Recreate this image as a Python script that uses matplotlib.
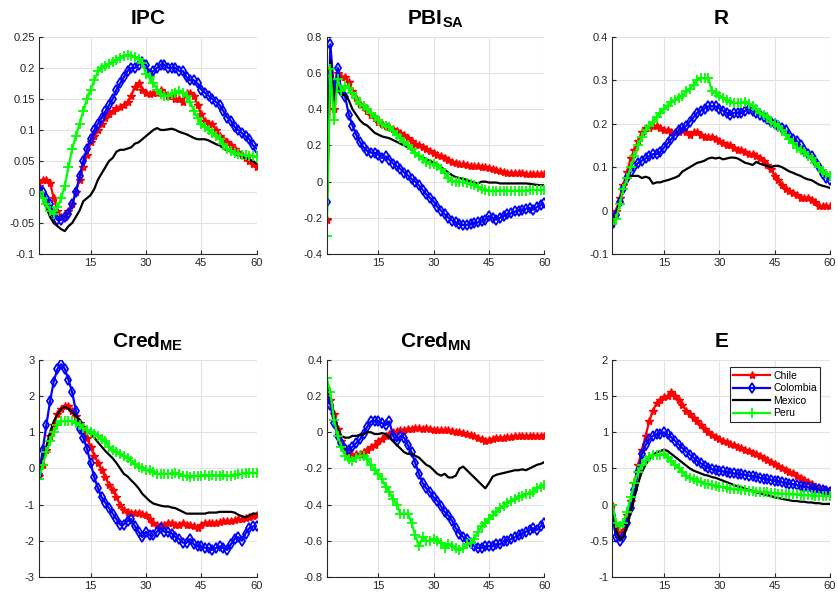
import numpy as np
import matplotlib
matplotlib.use('Agg')
import matplotlib.pyplot as plt
from matplotlib.ticker import FuncFormatter

plt.rcParams['font.family'] = ['Liberation Sans', 'DejaVu Sans']
plt.rcParams['axes.unicode_minus'] = False
plt.rcParams['mathtext.fontset'] = 'custom'
plt.rcParams['mathtext.bf'] = 'Liberation Sans:bold'
plt.rcParams['mathtext.rm'] = 'Liberation Sans'

#horizon
h = np.arange(1, 61)
countries = ['Chile', 'Colombia', 'Mexico', 'Peru']

#IPC
ipc_chile = [0.01, 0.02, 0.02, 0.015, -0.01, -0.03, -0.04, -0.04, -0.03, -0.02,
             0.0, 0.02, 0.04, 0.06, 0.08, 0.09, 0.10, 0.11, 0.12, 0.125,
             0.13, 0.135, 0.137, 0.14, 0.145, 0.155, 0.17, 0.175, 0.165, 0.16,
             0.158, 0.16, 0.16, 0.165, 0.16, 0.155, 0.155, 0.15, 0.15, 0.145,
             0.16, 0.16, 0.155, 0.14, 0.125, 0.115, 0.11, 0.11, 0.10, 0.09,
             0.085, 0.08, 0.075, 0.07, 0.065, 0.06, 0.055, 0.05, 0.045, 0.04]
ipc_colombia = [0.005, 0.0, -0.01, -0.02, -0.035, -0.045, -0.045, -0.04, -0.035, -0.02,
                0.0, 0.025, 0.05, 0.07, 0.085, 0.10, 0.11, 0.12, 0.13, 0.14,
                0.15, 0.165, 0.175, 0.185, 0.195, 0.20, 0.20, 0.205, 0.21, 0.205,
                0.19, 0.195, 0.20, 0.205, 0.205, 0.20, 0.20, 0.20, 0.195, 0.195,
                0.185, 0.18, 0.18, 0.175, 0.165, 0.16, 0.155, 0.15, 0.145, 0.14,
                0.13, 0.12, 0.115, 0.105, 0.10, 0.095, 0.09, 0.085, 0.075, 0.07]
ipc_mexico = [0.0, -0.01, -0.025, -0.04, -0.05, -0.055, -0.06, -0.063, -0.055, -0.05,
              -0.04, -0.03, -0.015, -0.01, -0.005, 0.005, 0.02, 0.03, 0.04, 0.05,
              0.055, 0.065, 0.068, 0.068, 0.07, 0.072, 0.078, 0.08, 0.085, 0.09,
              0.095, 0.10, 0.103, 0.10, 0.10, 0.101, 0.102, 0.10, 0.097, 0.095,
              0.093, 0.09, 0.087, 0.085, 0.085, 0.085, 0.083, 0.08, 0.077, 0.075,
              0.07, 0.067, 0.065, 0.062, 0.06, 0.058, 0.055, 0.052, 0.05, 0.045]
ipc_peru = [0.0, -0.01, -0.02, -0.03, -0.035, -0.025, -0.01, 0.01, 0.04, 0.07,
            0.09, 0.11, 0.13, 0.15, 0.165, 0.18, 0.195, 0.20, 0.203, 0.206,
            0.21, 0.213, 0.216, 0.219, 0.221, 0.22, 0.218, 0.215, 0.208, 0.19,
            0.185, 0.175, 0.165, 0.158, 0.155, 0.155, 0.158, 0.16, 0.163, 0.16,
            0.155, 0.145, 0.13, 0.12, 0.11, 0.105, 0.10, 0.095, 0.09, 0.085,
            0.078, 0.07, 0.066, 0.063, 0.061, 0.06, 0.059, 0.058, 0.058, 0.057]

#PBI_SA
pbi_chile = [-0.21, 0.62, 0.40, 0.60, 0.58, 0.58, 0.55, 0.50, 0.46, 0.43,
             0.41, 0.39, 0.37, 0.35, 0.33, 0.32, 0.31, 0.30, 0.29, 0.28,
             0.27, 0.26, 0.24, 0.225, 0.21, 0.20, 0.19, 0.18, 0.17, 0.16,
             0.15, 0.14, 0.13, 0.12, 0.11, 0.105, 0.10, 0.095, 0.09, 0.085,
             0.085, 0.085, 0.08, 0.08, 0.075, 0.07, 0.065, 0.06, 0.055, 0.05,
             0.05, 0.045, 0.045, 0.045, 0.04, 0.04, 0.04, 0.04, 0.04, 0.04]
pbi_colombia = [-0.11, 0.76, 0.50, 0.63, 0.50, 0.47, 0.37, 0.31, 0.26, 0.22,
                0.19, 0.17, 0.16, 0.16, 0.15, 0.13, 0.14, 0.12, 0.10, 0.085,
                0.07, 0.05, 0.035, 0.015, 0.0, -0.02, -0.045, -0.07, -0.09, -0.11,
                -0.14, -0.16, -0.18, -0.20, -0.215, -0.225, -0.235, -0.24, -0.24, -0.235,
                -0.23, -0.225, -0.22, -0.21, -0.19, -0.20, -0.21, -0.20, -0.19, -0.18,
                -0.175, -0.165, -0.16, -0.155, -0.15, -0.145, -0.155, -0.14, -0.13, -0.12]
pbi_mexico = [-0.15, 0.67, 0.45, 0.55, 0.48, 0.48, 0.45, 0.40, 0.37, 0.34,
              0.32, 0.31, 0.29, 0.27, 0.26, 0.25, 0.245, 0.24, 0.23, 0.22,
              0.21, 0.20, 0.19, 0.175, 0.16, 0.145, 0.135, 0.125, 0.115, 0.105,
              0.095, 0.08, 0.065, 0.05, 0.035, 0.025, 0.02, 0.015, 0.01, 0.0,
              -0.005, -0.01, 0.0, 0.0, -0.005, -0.005, -0.005, -0.01, -0.01, -0.01,
              -0.01, -0.01, -0.01, -0.01, -0.01, -0.012, -0.015, -0.018, -0.02, -0.02]
pbi_peru = [-0.30, 0.62, 0.34, 0.57, 0.50, 0.53, 0.52, 0.49, 0.46, 0.43,
            0.42, 0.40, 0.38, 0.36, 0.34, 0.32, 0.31, 0.30, 0.28, 0.26,
            0.24, 0.22, 0.20, 0.18, 0.16, 0.14, 0.125, 0.11, 0.10, 0.095,
            0.085, 0.07, 0.05, 0.02, 0.005, 0.0, 0.0, 0.0, -0.005, -0.015,
            -0.02, -0.03, -0.04, -0.045, -0.05, -0.05, -0.05, -0.05, -0.05, -0.05,
            -0.05, -0.05, -0.05, -0.05, -0.05, -0.048, -0.047, -0.046, -0.045, -0.045]

#R
r_chile = [-0.03, 0.0, 0.03, 0.06, 0.09, 0.12, 0.14, 0.16, 0.18, 0.19,
           0.19, 0.195, 0.195, 0.19, 0.185, 0.185, 0.18, 0.18, 0.18, 0.185,
           0.18, 0.175, 0.18, 0.18, 0.175, 0.17, 0.17, 0.17, 0.165, 0.16,
           0.155, 0.15, 0.15, 0.145, 0.14, 0.14, 0.135, 0.13, 0.13, 0.125,
           0.12, 0.115, 0.105, 0.095, 0.08, 0.07, 0.06, 0.05, 0.045, 0.04,
           0.035, 0.03, 0.03, 0.03, 0.025, 0.02, 0.01, 0.01, 0.01, 0.01]
r_colombia = [-0.03, -0.01, 0.02, 0.05, 0.075, 0.09, 0.10, 0.11, 0.115, 0.12,
              0.125, 0.13, 0.13, 0.135, 0.145, 0.155, 0.165, 0.175, 0.185, 0.19,
              0.195, 0.205, 0.215, 0.225, 0.23, 0.235, 0.24, 0.24, 0.24, 0.235,
              0.23, 0.225, 0.22, 0.225, 0.225, 0.225, 0.23, 0.235, 0.23, 0.225,
              0.22, 0.215, 0.21, 0.205, 0.20, 0.195, 0.19, 0.185, 0.175, 0.165,
              0.16, 0.15, 0.14, 0.13, 0.125, 0.115, 0.10, 0.085, 0.075, 0.07]
r_mexico = [-0.03, -0.01, 0.02, 0.05, 0.07, 0.08, 0.08, 0.08, 0.075, 0.078,
            0.075, 0.062, 0.065, 0.065, 0.068, 0.07, 0.073, 0.076, 0.08, 0.09,
            0.095, 0.10, 0.105, 0.11, 0.112, 0.115, 0.12, 0.122, 0.12, 0.122,
            0.118, 0.12, 0.122, 0.122, 0.12, 0.115, 0.11, 0.108, 0.105, 0.112,
            0.108, 0.105, 0.103, 0.10, 0.103, 0.103, 0.10, 0.095, 0.09, 0.087,
            0.083, 0.08, 0.075, 0.072, 0.07, 0.065, 0.06, 0.057, 0.055, 0.052]
r_peru = [-0.03, -0.02, 0.015, 0.05, 0.075, 0.10, 0.125, 0.15, 0.17, 0.185,
          0.195, 0.205, 0.215, 0.225, 0.235, 0.24, 0.25, 0.255, 0.26, 0.265,
          0.275, 0.28, 0.29, 0.30, 0.305, 0.305, 0.305, 0.275, 0.27, 0.265,
          0.26, 0.255, 0.25, 0.248, 0.248, 0.248, 0.25, 0.245, 0.24, 0.235,
          0.225, 0.22, 0.215, 0.205, 0.20, 0.195, 0.185, 0.175, 0.165, 0.155,
          0.145, 0.14, 0.135, 0.125, 0.12, 0.11, 0.10, 0.09, 0.085, 0.08]

#Cred_ME
me_chile = [-0.2, 0.1, 0.5, 0.9, 1.2, 1.5, 1.65, 1.72, 1.72, 1.6,
            1.45, 1.25, 1.05, 0.85, 0.6, 0.35, 0.15, -0.05, -0.25, -0.45,
            -0.6, -0.8, -1.0, -1.15, -1.2, -1.22, -1.22, -1.23, -1.25, -1.3,
            -1.4, -1.5, -1.55, -1.55, -1.55, -1.5, -1.5, -1.55, -1.55, -1.5,
            -1.55, -1.55, -1.6, -1.65, -1.55, -1.5, -1.5, -1.5, -1.5, -1.48,
            -1.45, -1.45, -1.45, -1.42, -1.4, -1.4, -1.38, -1.35, -1.32, -1.3]
me_colombia = [-0.15, 0.5, 1.2, 1.85, 2.4, 2.75, 2.88, 2.75, 2.45, 2.1,
               1.6, 1.1, 0.85, 0.55, 0.15, -0.25, -0.55, -0.8, -0.95, -1.1,
               -1.25, -1.4, -1.55, -1.55, -1.45, -1.4, -1.6, -1.75, -1.9, -1.75,
               -1.85, -1.85, -1.75, -1.65, -1.75, -1.75, -1.8, -1.9, -1.95, -2.05,
               -2.05, -1.95, -2.1, -2.15, -2.15, -2.2, -2.2, -2.25, -2.2, -2.15,
               -2.2, -2.25, -2.1, -1.95, -1.9, -2.0, -1.8, -1.65, -1.6, -1.6]
me_mexico = [-0.2, 0.2, 0.6, 1.0, 1.3, 1.5, 1.65, 1.7, 1.65, 1.55,
             1.45, 1.35, 1.2, 1.05, 0.95, 0.85, 0.72, 0.6, 0.48, 0.38,
             0.28, 0.15, 0.0, -0.15, -0.22, -0.33, -0.43, -0.55, -0.7, -0.8,
             -0.9, -0.97, -1.0, -1.03, -1.05, -1.05, -1.08, -1.1, -1.15, -1.2,
             -1.25, -1.25, -1.25, -1.25, -1.25, -1.25, -1.22, -1.22, -1.22, -1.2,
             -1.2, -1.2, -1.2, -1.22, -1.28, -1.32, -1.35, -1.3, -1.25, -1.25]
me_peru = [-0.3, 0.1, 0.45, 0.75, 1.0, 1.2, 1.3, 1.3, 1.32, 1.3,
           1.25, 1.2, 1.12, 1.05, 1.0, 0.95, 0.9, 0.8, 0.75, 0.6,
           0.5, 0.45, 0.4, 0.35, 0.28, 0.2, 0.12, 0.05, 0.0, -0.05,
           -0.05, -0.1, -0.15, -0.15, -0.15, -0.15, -0.15, -0.12, -0.15, -0.2,
           -0.2, -0.25, -0.22, -0.2, -0.2, -0.18, -0.22, -0.18, -0.2, -0.2,
           -0.18, -0.2, -0.2, -0.18, -0.15, -0.15, -0.12, -0.12, -0.12, -0.12]

#Cred_MN
mn_chile = [0.22, 0.18, 0.10, 0.02, -0.05, -0.10, -0.12, -0.13, -0.12, -0.12,
            -0.11, -0.10, -0.08, -0.07, -0.05, -0.04, -0.02, -0.01, 0.0, 0.005,
            0.01, 0.015, 0.02, 0.02, 0.025, 0.025, 0.02, 0.025, 0.02, 0.015,
            0.01, 0.01, 0.01, 0.01, 0.005, 0.0, 0.0, -0.005, -0.01, -0.015,
            -0.02, -0.03, -0.04, -0.05, -0.045, -0.035, -0.03, -0.03, -0.03, -0.025,
            -0.025, -0.02, -0.02, -0.02, -0.02, -0.02, -0.02, -0.02, -0.02, -0.02]
mn_colombia = [0.20, 0.15, 0.05, -0.02, -0.06, -0.09, -0.10, -0.08, -0.06, -0.04,
               -0.01, 0.03, 0.06, 0.06, 0.06, 0.05, 0.04, 0.06, -0.02, -0.05,
               -0.02, -0.03, -0.07, -0.11, -0.17, -0.23, -0.28, -0.31, -0.33, -0.36,
               -0.38, -0.41, -0.44, -0.46, -0.49, -0.53, -0.56, -0.58, -0.59, -0.61,
               -0.63, -0.64, -0.64, -0.63, -0.63, -0.63, -0.62, -0.62, -0.60, -0.60,
               -0.59, -0.58, -0.57, -0.56, -0.55, -0.54, -0.53, -0.54, -0.52, -0.50]
mn_mexico = [0.28, 0.20, 0.10, 0.02, -0.02, -0.03, -0.03, -0.02, -0.02, -0.015,
             -0.01, 0.0, 0.0, -0.01, -0.01, -0.005, -0.01, -0.03, -0.05, -0.07,
             -0.09, -0.11, -0.12, -0.12, -0.13, -0.14, -0.16, -0.18, -0.19, -0.21,
             -0.23, -0.24, -0.23, -0.25, -0.25, -0.24, -0.20, -0.19, -0.21, -0.23,
             -0.25, -0.27, -0.29, -0.31, -0.28, -0.245, -0.235, -0.23, -0.225, -0.22,
             -0.215, -0.21, -0.21, -0.205, -0.21, -0.20, -0.19, -0.18, -0.175, -0.165]
mn_peru = [0.30, 0.22, 0.07, -0.02, -0.08, -0.13, -0.15, -0.16, -0.14, -0.13,
           -0.13, -0.15, -0.18, -0.21, -0.23, -0.26, -0.30, -0.33, -0.37, -0.40,
           -0.45, -0.45, -0.45, -0.50, -0.57, -0.63, -0.58, -0.60, -0.60, -0.59,
           -0.60, -0.61, -0.64, -0.62, -0.63, -0.64, -0.65, -0.64, -0.62, -0.61,
           -0.59, -0.55, -0.52, -0.50, -0.48, -0.46, -0.44, -0.42, -0.41, -0.39,
           -0.38, -0.37, -0.36, -0.35, -0.34, -0.34, -0.33, -0.31, -0.30, -0.29]

#E
e_chile = [0.0, -0.3, -0.4, -0.35, -0.15, 0.05, 0.3, 0.55, 0.75, 0.95,
           1.15, 1.3, 1.4, 1.45, 1.48, 1.5, 1.55, 1.5, 1.45, 1.38,
           1.3, 1.25, 1.2, 1.15, 1.1, 1.05, 1.0, 0.96, 0.93, 0.9,
           0.88, 0.86, 0.84, 0.82, 0.8, 0.78, 0.76, 0.74, 0.72, 0.7,
           0.67, 0.65, 0.62, 0.59, 0.56, 0.53, 0.5, 0.48, 0.45, 0.43,
           0.4, 0.37, 0.34, 0.31, 0.28, 0.25, 0.22, 0.2, 0.19, 0.18]
e_colombia = [-0.15, -0.45, -0.5, -0.45, -0.25, -0.05, 0.2, 0.45, 0.7, 0.82,
              0.9, 0.95, 0.97, 0.98, 1.0, 0.97, 0.93, 0.88, 0.83, 0.78,
              0.73, 0.69, 0.65, 0.6, 0.57, 0.54, 0.51, 0.49, 0.48, 0.47,
              0.46, 0.45, 0.44, 0.43, 0.42, 0.42, 0.41, 0.4, 0.39, 0.38,
              0.37, 0.36, 0.35, 0.34, 0.33, 0.32, 0.31, 0.3, 0.29, 0.28,
              0.27, 0.26, 0.25, 0.24, 0.23, 0.22, 0.21, 0.2, 0.19, 0.18]
e_mexico = [0.0, -0.35, -0.48, -0.45, -0.3, -0.1, 0.1, 0.3, 0.45, 0.55,
            0.63, 0.68, 0.72, 0.74, 0.76, 0.74, 0.7, 0.66, 0.62, 0.58,
            0.54, 0.5, 0.47, 0.45, 0.43, 0.41, 0.4, 0.38, 0.37, 0.35,
            0.33, 0.31, 0.29, 0.27, 0.25, 0.24, 0.22, 0.2, 0.19, 0.17,
            0.16, 0.14, 0.13, 0.12, 0.1, 0.09, 0.08, 0.07, 0.06, 0.05,
            0.05, 0.04, 0.04, 0.03, 0.03, 0.02, 0.02, 0.01, 0.01, 0.01]
e_peru = [0.0, -0.25, -0.3, -0.25, -0.1, 0.1, 0.3, 0.45, 0.55, 0.62,
          0.66, 0.68, 0.68, 0.68, 0.7, 0.65, 0.6, 0.55, 0.5, 0.45,
          0.4, 0.37, 0.35, 0.33, 0.31, 0.29, 0.28, 0.27, 0.26, 0.25,
          0.24, 0.23, 0.22, 0.21, 0.21, 0.2, 0.2, 0.19, 0.19, 0.18,
          0.18, 0.17, 0.17, 0.16, 0.16, 0.15, 0.15, 0.15, 0.14, 0.14,
          0.14, 0.13, 0.13, 0.13, 0.13, 0.12, 0.12, 0.12, 0.12, 0.12]

titles = [r'$\mathbf{IPC}$', r'$\mathbf{PBI}_{\mathbf{SA}}$', r'$\mathbf{R}$',
          r'$\mathbf{Cred}_{\mathbf{ME}}$', r'$\mathbf{Cred}_{\mathbf{MN}}$', r'$\mathbf{E}$']
panels = [[ipc_chile, ipc_colombia, ipc_mexico, ipc_peru],
          [pbi_chile, pbi_colombia, pbi_mexico, pbi_peru],
          [r_chile, r_colombia, r_mexico, r_peru],
          [me_chile, me_colombia, me_mexico, me_peru],
          [mn_chile, mn_colombia, mn_mexico, mn_peru],
          [e_chile, e_colombia, e_mexico, e_peru]]
ylims = [(-0.1, 0.25, 0.05), (-0.4, 0.8, 0.2), (-0.1, 0.4, 0.1),
         (-3, 3, 1), (-0.8, 0.4, 0.2), (-1, 2, 0.5)]

#line styles per country
styles = [dict(color='#ff0000', marker='*', ms=6, mec='#ff0000'),
          dict(color='#0000ff', marker='d', ms=5.5, mfc='none', mew=1.3),
          dict(color='black', marker=None),
          dict(color='#00ff00', marker='+', ms=6.5, mew=1.3)]

def fmt(v, p):
    v = round(v, 4)
    if abs(v) < 1e-9:
        v = 0.0
    return '%g' % v

fig = plt.figure(figsize=(8.38, 5.96), dpi=100)
lefts = [0.0465, 0.3898, 0.7307]
bottoms = [0.5738, 0.0319]
W, H = 0.2598, 0.3643

for k in range(6):
    ax = fig.add_axes([lefts[k % 3], bottoms[k // 3], W, H])
    for series, name, st in zip(panels[k], countries, styles):
        ax.plot(h, series, lw=1.6, label=name, **st)
    lo, hi, step = ylims[k]
    ax.set_xlim(1, 60)
    ax.set_ylim(lo, hi)
    ax.set_xticks([15, 30, 45, 60])
    ax.set_yticks(np.arange(lo, hi + step / 2, step))
    ax.yaxis.set_major_formatter(FuncFormatter(fmt))
    ax.grid(True, color='#e3e3e3', lw=0.8)
    ax.set_axisbelow(True)
    ax.spines['top'].set_visible(False)
    ax.spines['right'].set_visible(False)
    for s in ['left', 'bottom']:
        ax.spines[s].set_color('#262626')
        ax.spines[s].set_linewidth(0.8)
    ax.tick_params(direction='in', length=3, labelsize=8, colors='#262626', pad=3)
    ax.set_title(titles[k], fontsize=15, pad=9)
    if k == 5:
        leg = ax.legend(loc='upper right', bbox_to_anchor=(0.955, 0.965), fontsize=7.5,
                        fancybox=False, framealpha=1, edgecolor='#262626',
                        handlelength=3.6, borderpad=0.3, labelspacing=0.25,
                        handletextpad=0.3, borderaxespad=0)
        leg.get_frame().set_linewidth(0.8)

plt.savefig('out.png', dpi=100)
